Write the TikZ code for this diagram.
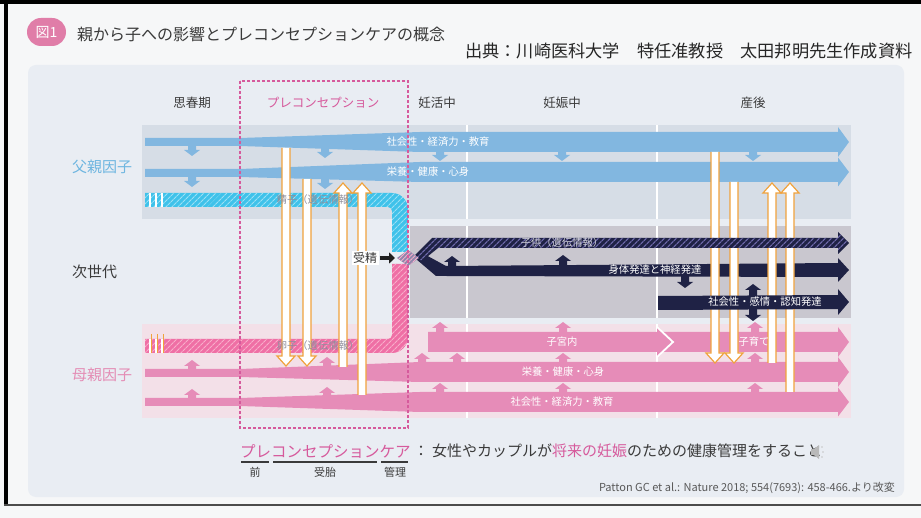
\documentclass[tikz,border=0pt]{standalone}
\usepackage{fontspec}
\setmainfont{Noto Sans CJK JP}
\usetikzlibrary{patterns.meta,arrows.meta}
\definecolor{outbg}{HTML}{F6F7F8}
\definecolor{pnl}{HTML}{E9EDF3}
\definecolor{fbg}{HTML}{D6DDE6}
\definecolor{blu}{HTML}{82B7E0}
\definecolor{cyn}{HTML}{3FC2EA}
\definecolor{cynl}{HTML}{9BE0F5}
\definecolor{nbg}{HTML}{C9C7CF}
\definecolor{nvy}{HTML}{1F2245}
\definecolor{nvh}{HTML}{6E69AA}
\definecolor{mbg}{HTML}{F3E0E8}
\definecolor{pnk}{HTML}{E68CB8}
\definecolor{ovm}{HTML}{EF6FA5}
\definecolor{ovml}{HTML}{F8AECB}
\definecolor{org}{HTML}{F0A23C}
\definecolor{ttlc}{HTML}{E07DA8}
\definecolor{pkt}{HTML}{D65A9C}
\definecolor{txt}{HTML}{3A3A3A}
\definecolor{ftxt}{HTML}{6FB6E0}
\definecolor{mtxt}{HTML}{E48DB5}
\definecolor{dia}{HTML}{8F88AC}
\definecolor{gtx}{HTML}{8E8E9C}
\definecolor{ctx}{HTML}{D2D2DA}
\tikzset{
  hdr/.style={font=\fontsize{12.5}{14}\selectfont, text=txt, inner sep=0pt},
  side/.style={font=\fontsize{15}{17}\selectfont, anchor=west, inner sep=0pt},
  bandtxt/.style={font=\fontsize{10.3}{12}\selectfont, text=white, inner sep=0pt},
  gentxt/.style={font=\fontsize{10.3}{12}\selectfont, text=gtx, inner sep=0pt},
  spermband/.style={preaction={fill=cyn}, pattern={Lines[angle=45,distance=4pt,line width=1.2pt]}, pattern color=cynl},
  ovumband/.style={preaction={fill=ovm}, pattern={Lines[angle=45,distance=4pt,line width=1.2pt]}, pattern color=ovml},
  childband/.style={preaction={fill=nvy}, pattern={Lines[angle=45,distance=4pt,line width=1.3pt]}, pattern color=nvh},
  diaband/.style={preaction={fill=dia}, pattern={Lines[angle=45,distance=3pt,line width=0.8pt]}, pattern color=ovml},
  uline/.style={draw=txt, line width=1.2pt},
  note/.style={font=\fontsize{11}{13}\selectfont, text=txt, inner sep=0pt},
}
% small solid vertical arrow: colour, x, y tail, y tip
\newcommand\smallv[4]{%
  \pgfmathsetmacro\sgnv{(#4>#3)?1:-1}%
  \pgfmathsetmacro\ybv{#4-\sgnv*6}%
  \fill[#1] (#2-4,#3) -- (#2-4,\ybv) -- (#2-8,\ybv) -- (#2,#4) -- (#2+8,\ybv) -- (#2+4,\ybv) -- (#2+4,#3) -- cycle;}
% hollow orange vertical arrow: x, y tail, y tip
\newcommand\harrow[3]{%
  \pgfmathsetmacro\sgnh{(#3>#2)?1:-1}%
  \pgfmathsetmacro\ybh{#3-\sgnh*10}%
  \fill[white] (#1-4,#2) -- (#1-4,\ybh) -- (#1-9,\ybh) -- (#1,#3) -- (#1+9,\ybh) -- (#1+4,\ybh) -- (#1+4,#2) -- cycle;
  \draw[org, line width=1.2pt, line join=miter] (#1-4,#2) -- (#1-4,\ybh) -- (#1-9,\ybh) -- (#1,#3) -- (#1+9,\ybh) -- (#1+4,\ybh) -- (#1+4,#2);}
\begin{document}
\begin{tikzpicture}[x=1pt,y=-1pt]
\useasboundingbox (0,0) rectangle (921,518);
\fill[outbg] (0,0) rectangle (921,518);
% frame
\fill[black] (0,0) rectangle (921,4);
\fill[black] (4,0) rectangle (8,505);
\fill[black!70] (4,503.5) rectangle (921,505.5);
% panel
\fill[pnl, rounded corners=8pt] (28,65) rectangle (904,497);

% title
\fill[ttlc, rounded corners=14pt] (27,18) rectangle (66,46);
\node[font=\fontsize{14}{14}\selectfont, text=white, inner sep=0pt] (fig) at (46.5,32) {図1};
\node[font=\fontsize{16}{18}\selectfont, text=txt, anchor=west, inner sep=0pt] (title) at (77,34) {親から子への影響とプレコンセプションケアの概念};
\node[font=\fontsize{17.2}{19}\selectfont, text=black!85, anchor=west, inner sep=0pt] (src) at (465,51) {出典：川崎医科大学　特任准教授　太田邦明先生作成資料};

% headers
\node[hdr] (h1) at (192,103) {思春期};
\node[hdr, text=pkt] (h2) at (323,103) {プレコンセプション};
\node[hdr] (h3) at (437,103) {妊活中};
\node[hdr] (h4) at (562,103) {妊娠中};
\node[hdr] (h5) at (753,103) {産後};

% side labels
\node[side, text=ftxt] (fa) at (72,167) {父親因子};
\node[side, text=txt] (ng) at (72,272) {次世代};
\node[side, text=mtxt] (mo) at (72,375) {母親因子};

% band backgrounds
\fill[fbg] (142,125) rectangle (851,219);
\fill[nbg] (410,226) rectangle (851,318);
\fill[mbg] (142,324) rectangle (851,418);
\foreach \xx in {467,657}{
  \draw[white, line width=1.5pt] (\xx,125) -- (\xx,219);
  \draw[white, line width=1.5pt] (\xx,226) -- (\xx,318);
  \draw[white, line width=1.5pt] (\xx,324) -- (\xx,418);}

% father arrows
\fill[blu] (145,138) -- (240,138) -- (420,132) -- (838,132) -- (838,127) -- (849,142) -- (838,157) -- (838,152) -- (420,152) -- (240,146) -- (145,146) -- cycle;
\fill[blu] (145,169) -- (240,169) -- (420,162) -- (838,162) -- (838,157.5) -- (849,172) -- (838,186.5) -- (838,182) -- (420,182) -- (240,177) -- (145,177) -- cycle;
\smallv{blu}{192}{146}{156}
\smallv{blu}{325}{148}{158}
\smallv{blu}{440}{152}{161}
\smallv{blu}{562}{152}{161}
\smallv{blu}{753}{152}{161}
\smallv{blu}{192}{177}{187}
\smallv{blu}{325}{179}{189}

% sperm band
\path[spermband] (145,193) -- (392,193) .. controls (400.8,193) and (408,200.2) .. (408,209) -- (408,252) -- (392,252) -- (392,211) .. controls (392,208.8) and (390.2,207) .. (388,207) -- (145,207) -- cycle;
\foreach \xx in {149,155,161}{\fill[white] (\xx,193) rectangle (\xx+2,207);}

% ovum band
\path[ovumband] (145,339) -- (388,339) .. controls (390.2,339) and (392,337.2) .. (392,335) -- (392,264) -- (408,264) -- (408,337) .. controls (408,345.8) and (400.8,353) .. (392,353) -- (145,353) -- cycle;
\foreach \xx in {149,155,161}{\fill[white] (\xx,339) rectangle (\xx+2,353);
  \draw[org, line width=0.5pt] (\xx+2.5,334) -- (\xx+2.5,353);}

% body-development band (under the bars)
\fill[nvy] (416,259) -- (424,254) -- (446,266) -- (838,263) -- (838,258) -- (849,270) -- (838,282) -- (838,277) -- (446,276) -- (436,276) -- cycle;
\smallv{nvy}{452}{267}{256}
\smallv{nvy}{563}{266}{255}
\smallv{nvy}{685}{276}{288}

% mother arrows
\fill[pnk] (660,332) -- (838,332) -- (838,327) -- (849,342) -- (838,357) -- (838,352) -- (660,352) -- cycle;
\fill[pnk] (428,332) -- (657,332) -- (657,327) -- (673,342) -- (657,357) -- (657,352) -- (428,352) -- cycle;
\draw[white, line width=1.8pt] (657,327) -- (673,342) -- (657,357);
\fill[pnk] (145,369) -- (240,369) -- (420,362) -- (838,362) -- (838,357) -- (849,372) -- (838,387) -- (838,382) -- (420,382) -- (240,377) -- (145,377) -- cycle;
\fill[pnk] (145,398) -- (240,398) -- (420,392) -- (838,392) -- (838,387.5) -- (849,402) -- (838,416.5) -- (838,412) -- (420,412) -- (240,406) -- (145,406) -- cycle;
\foreach \xx in {440,563,755}{\smallv{pnk}{\xx}{332}{322}}
\smallv{pnk}{192}{369}{360}
\smallv{pnk}{327}{367}{357}
\foreach \xx in {422,457,563,755}{\smallv{pnk}{\xx}{362}{353}}
\smallv{pnk}{192}{398}{389}
\smallv{pnk}{327}{396}{387}
\foreach \xx in {440,563,755}{\smallv{pnk}{\xx}{392}{383}}

% orange hollow arrows
\harrow{286}{148}{366}
\harrow{307}{179}{366}
\harrow{343}{367}{183}
\harrow{362}{395}{183}
\harrow{715}{152}{363}
\harrow{734}{182}{363}
\harrow{772}{363}{183}
\harrow{790}{392}{183}

% child (genetic) band and social band over the bars
\path[childband] (414,256) -- (432,238) -- (838,238) -- (838,232) -- (849,243) -- (838,254) -- (838,248) -- (438,248) -- (422,261) -- cycle;
\fill[nvy] (658,296) -- (838,295) -- (838,289) -- (849,302) -- (838,315) -- (838,309) -- (658,310) -- cycle;
\smallv{nvy}{753}{297}{284}
\smallv{nvy}{753}{308}{321}

% band texts (on top)
\node[bandtxt] (fs1) at (438,142) {社会性・経済力・教育};
\node[bandtxt] (fs2) at (428,172) {栄養・健康・心身};
\node[gentxt] (sp) at (318,200) {精子（遺伝情報）};
\node[gentxt] (ov) at (318,346) {卵子（遺伝情報）};
\node[gentxt, text=ctx] (ch) at (562,243) {子供（遺伝情報）};
\node[bandtxt] (bd) at (655,270) {身体発達と神経発達};
\node[bandtxt] (sc) at (765,302) {社会性・感情・認知発達};
\node[bandtxt] (ut) at (562,342) {子宮内};
\node[bandtxt] (cr) at (754,342) {子育て};
\node[bandtxt] (ms2) at (563,372) {栄養・健康・心身};
\node[bandtxt] (ms1) at (562,402) {社会性・経済力・教育};

% fertilisation
\path[diaband] (397,258) -- (408,250) -- (419,258) -- (408,266) -- cycle;
\coordinate (diaL) at (395,258);
\node[font=\fontsize{12}{12}\selectfont, fill=white, inner sep=1.5pt, text=txt] (jusei) at (365,258) {受精};
\draw[-{Triangle[width=11pt,length=6pt]}, line width=4.5pt, black!88] ([xshift=1pt]jusei.east) -- (diaL);

% preconception box
\draw[pkt, line width=1.2pt, dash pattern=on 3pt off 2pt] (240,81) rectangle (408,428);

% bottom caption
\node[font=\fontsize{15.5}{17}\selectfont, text=pkt, anchor=west, inner sep=0pt] (pc) at (240,451) {プレコンセプションケア};
\node[font=\fontsize{15}{17}\selectfont, text=txt, inner sep=0pt] (colon) at (421,451) {：};
\node[font=\fontsize{15}{17}\selectfont, text=txt, anchor=west, inner sep=0pt] (def) at (432,451) {女性やカップルが\textcolor{pkt}{将来の妊娠}のための健康管理をすること};
\draw[uline] (241,462) -- (269,462);
\draw[uline] (273,462) -- (377,462);
\draw[uline] (381,462) -- (408,462);
\node[note] (mae) at (255,472) {前};
\node[note] (jutai) at (325,472) {受胎};
\node[note] (kanri) at (395,472) {管理};
\node[font=\fontsize{11}{13}\selectfont, text=black!65, anchor=east, inner sep=0pt] (ref) at (895,488) {Patton GC et al.: Nature 2018; 554(7693): 458-466.より改変};
% speaker glyph
\fill[gray!55] (811,449) rectangle (814,455);
\fill[gray!55] (814,449) -- (819,445) -- (819,459) -- (814,455) -- cycle;
\fill[gray!45] (822,447) circle (0.8pt) (823,452) circle (0.8pt) (822,457) circle (0.8pt);
\end{tikzpicture}
\end{document}
